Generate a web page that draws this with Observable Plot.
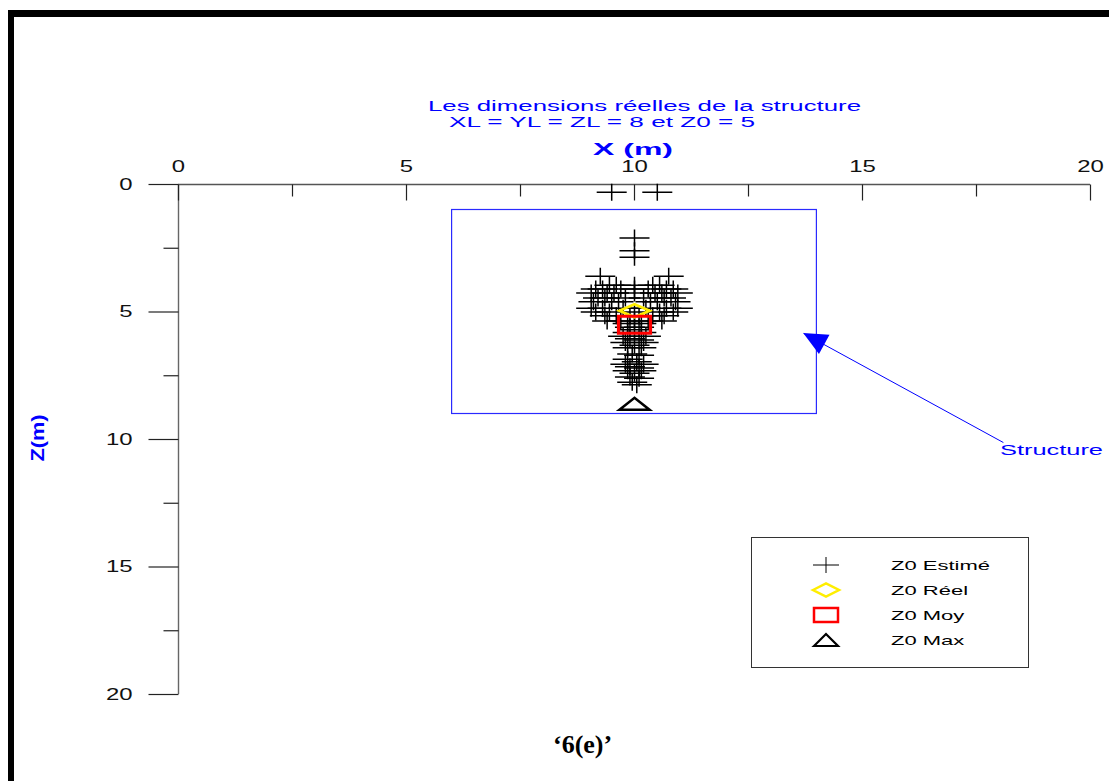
<!DOCTYPE html>
<html><head><meta charset="utf-8">
<script src="https://cdn.jsdelivr.net/npm/d3@7"></script>
<script src="https://cdn.jsdelivr.net/npm/@observablehq/plot@0.6"></script>
<style>
body{margin:0;background:#fff;}
#wrap{position:relative;width:1109px;height:781px;overflow:hidden;background:#fff;font-family:"Liberation Sans",Arial,sans-serif;}
.t{position:absolute;white-space:nowrap;line-height:1;}
.bar{position:absolute;background:#000;}
</style></head><body><div id="wrap"></div>
<script>
// ---------- data ----------
const titleLine1 = "Les dimensions réelles de la structure";
const titleLine2 = "XL = YL = ZL = 8 et Z0 = 5";
const xLabel = "X (m)";
const zLabel = "Z(m)";
const figureLabel = "\u20186(e)\u2019";
const annotationLabel = "Structure";
const legendLabels = ["Z0 Estimé", "Z0 Réel", "Z0 Moy", "Z0 Max"];

const xMajorTicks = [0, 5, 10, 15, 20];
const xMinorTicks = [2.5, 7.5, 12.5, 17.5];
const zMajorTicks = [0, 5, 10, 15, 20];
const zMinorTicks = [2.5, 7.5, 12.5, 17.5];

// structure box (m)
const structureX = [6, 14];
const structureZ = [1, 9];

// estimated Z0 points
const estimatedX = [9.5,10.5, 10,10,10, 9.25,10.75,
 9.45,9.6,10.0,10.4,10.55,
 9.15,9.3,9.7,10.0,10.3,10.7,10.85,
 9.05,9.4,9.55,10.0,10.45,10.6,10.95,
 9.2,9.35,9.8,10.2,10.65,10.8,
 9.1,9.5,9.65,10.35,10.5,10.9,
 9.05,9.3,9.75,10.25,10.7,10.95,
 9.15,9.45,10.0,10.55,10.85,
 9.35,9.6,9.9,10.1,10.4,10.65,
 9.4,9.7,10.0,10.3,10.6,
 9.85,10.15,9.9,10.1,10.0,9.85,10.15,
 9.75,10.25,9.9,10.1,9.8,10.2,10.0,9.85,10.15,
 9.95,10.1,9.85,10.05,9.8,10.2,9.9,10.1,9.85,10.15,10.0,9.9,10.1,9.95,10.05];
const estimatedZ = [0.3,0.3, 2.1,2.6,2.85, 3.6,3.6,
 3.95,3.95,3.95,3.95,3.95,
 4.1,4.1,4.1,4.1,4.1,4.1,4.1,
 4.25,4.25,4.25,4.25,4.25,4.25,4.25,
 4.45,4.45,4.45,4.45,4.45,4.45,
 4.6,4.6,4.6,4.6,4.6,4.6,
 4.85,4.85,4.85,4.85,4.85,4.85,
 5.0,5.0,5.0,5.0,5.0,
 5.15,5.15,5.15,5.15,5.15,5.15,
 5.35,5.35,5.35,5.35,5.35,
 5.45,5.45,5.6,5.6,5.7,5.8,5.8,
 5.95,5.95,6.05,6.1,6.2,6.2,6.3,6.4,6.4,
 6.65,6.7,6.85,6.95,7.05,7.05,7.15,7.2,7.3,7.3,7.4,7.55,7.6,7.75,7.85];

const reelX = [10],  reelZ = [4.95];
const moyX = [10],   moyZ = [5.5];
const maxX = [10],   maxZ = [8.6];

// annotation arrow (from label to box)
const arrowFromX = [18.09], arrowFromZ = [10.12];
const arrowToX = [13.71],   arrowToZ = [5.84];

// ---------- build tables ----------
const estimated = estimatedX.map((x, i) => ({x, z: estimatedZ[i]}));
const reel = reelX.map((x, i) => ({x, z: reelZ[i]}));
const moy = moyX.map((x, i) => ({x, z: moyZ[i]}));
const maxi = maxX.map((x, i) => ({x, z: maxZ[i]}));
const structure = [{x1: structureX[0], x2: structureX[1], z1: structureZ[0], z2: structureZ[1]}];
const arrows = arrowFromX.map((x, i) => ({x1: x, z1: arrowFromZ[i], x2: arrowToX[i], z2: arrowToZ[i]}));

// ---------- symbols ----------
const sym = f => ({draw(c){ f(c); }});
const crossSym = sym(c => {c.moveTo(-15,0);c.lineTo(15,0);c.moveTo(0,-8.5);c.lineTo(0,8.5);});
const tickDown = len => sym(c => {c.moveTo(0,0);c.lineTo(0,len);});
const tickLeft = len => sym(c => {c.moveTo(0,0);c.lineTo(-len,0);});
const diamondSym = sym(c => {c.moveTo(-15,0);c.lineTo(0,-6.5);c.lineTo(15,0);c.lineTo(0,6.5);c.closePath();});
const squareSym = sym(c => {c.moveTo(-16,-8.5);c.lineTo(16,-8.5);c.lineTo(16,8.5);c.lineTo(-16,8.5);c.closePath();});
const triSym = sym(c => {c.moveTo(-15,6);c.lineTo(0,-6);c.lineTo(15,6);c.closePath();});

const BLUE = "#0000ff";
const wrap = document.getElementById("wrap");

const plot = Plot.plot({
  width: 1109, height: 781,
  marginLeft: 178, marginRight: 19, marginTop: 184, marginBottom: 87,
  style: {fontFamily: "'Liberation Sans', Arial, sans-serif", background: "transparent", overflow: "visible"},
  x: {domain: [0, 20], axis: null},
  y: {domain: [0, 20], reverse: true, axis: null},
  marks: [
    Plot.rect(structure, {x1: "x1", x2: "x2", y1: "z1", y2: "z2", fill: "none", stroke: "#2a2aff", strokeWidth: 1.2}),
    Plot.ruleY([0], {stroke: "#555", strokeWidth: 1.4}),
    Plot.ruleX([0], {stroke: "#666", strokeWidth: 1.4}),
    Plot.dot(xMajorTicks, {x: d => d, y: d => 0, symbol: tickDown(16), stroke: "#222", fill: "none", strokeWidth: 1.2}),
    Plot.dot(xMinorTicks, {x: d => d, y: d => 0, symbol: tickDown(12), stroke: "#222", fill: "none", strokeWidth: 1.2}),
    Plot.dot(zMajorTicks, {x: d => 0, y: d => d, symbol: tickLeft(30), stroke: "#222", fill: "none", strokeWidth: 1.2}),
    Plot.dot(zMinorTicks, {x: d => 0, y: d => d, symbol: tickLeft(15), stroke: "#222", fill: "none", strokeWidth: 1.2}),
    Plot.text(xMajorTicks, {x: d => d, y: d => 0, text: d => String(d), dy: -18, fontSize: 16.5, fill: "#111"}),
    Plot.text(zMajorTicks, {x: d => 0, y: d => d, text: d => String(d), dx: -46, textAnchor: "end", fontSize: 16.5, fill: "#111"}),
    Plot.dot(estimated, {x: "x", y: "z", symbol: crossSym, stroke: "#000", fill: "none", strokeWidth: 1.5}),
    Plot.dot(reel, {x: "x", y: "z", symbol: diamondSym, stroke: "#ffee00", fill: "none", strokeWidth: 2.8}),
    Plot.dot(moy, {x: "x", y: "z", symbol: squareSym, stroke: "#ff0000", fill: "none", strokeWidth: 3.2}),
    Plot.dot(maxi, {x: "x", y: "z", symbol: triSym, stroke: "#000", fill: "none", strokeWidth: 2.6}),
    Plot.link(arrows, {x1: "x1", y1: "z1", x2: "x2", y2: "z2", stroke: BLUE, strokeWidth: 1})
  ]
});
plot.style.position = "absolute";
plot.style.left = "0px";
plot.style.top = "0px";
wrap.appendChild(plot);

// stretch tick labels horizontally like the reference
plot.querySelectorAll("text").forEach(t => {
  const L = t.getComputedTextLength();
  t.setAttribute("textLength", (L * 1.45).toFixed(1));
  t.setAttribute("lengthAdjust", "spacingAndGlyphs");
});

// filled arrowhead
{
  const sx = plot.scale("x"), sy = plot.scale("y");
  const fx = v => sx.apply ? sx.apply(v) : d3.scaleLinear(sx.domain, sx.range)(v);
  const fy = v => sy.apply ? sy.apply(v) : d3.scaleLinear(sy.domain, sy.range)(v);
  arrows.forEach(a => {
    const tx = fx(a.x2), ty = fy(a.z2), ox = fx(a.x1), oy = fy(a.z1);
    const dx = ox - tx, dy = oy - ty, len = Math.hypot(dx, dy);
    const ux = dx / len, uy = dy / len, hl = 24, hw = 11;
    const bx = tx + ux * hl, by = ty + uy * hl;
    d3.select(plot).append("path")
      .attr("d", `M${tx},${ty}L${bx - uy * hw},${by + ux * hw}L${bx + uy * hw},${by - ux * hw}Z`)
      .attr("fill", BLUE);
  });
}

// frame bars
[[8, 10, 1101, 7], [8, 10, 6, 771]].forEach(([l, t, w, h]) => {
  const d = document.createElement("div"); d.className = "bar";
  Object.assign(d.style, {left: l + "px", top: t + "px", width: w + "px", height: h + "px"});
  wrap.appendChild(d);
});

function addText(txt, o) {
  const el = document.createElement("div");
  el.className = "t"; el.textContent = txt;
  el.style.fontSize = o.size + "px";
  el.style.fontWeight = o.weight || "normal";
  el.style.fontFamily = o.family || "'Liberation Sans', Arial, sans-serif";
  el.style.color = o.color || BLUE;
  wrap.appendChild(el);
  const r = el.getBoundingClientRect();
  const k = o.scale ? o.scale : (o.width ? o.width / r.width : 1);
  if (o.rotate) {
    el.style.left = o.cx + "px"; el.style.top = o.cy + "px";
    el.style.transformOrigin = "50% 50%";
    el.style.transform = `translate(-50%,-50%) rotate(-90deg) scaleX(${k})`;
  } else {
    el.style.left = o.left + "px"; el.style.top = (o.cy - r.height / 2) + "px";
    el.style.transformOrigin = "0 50%";
    el.style.transform = `scaleX(${k})`;
  }
  return k;
}

addText(titleLine1, {left: 428, cy: 106, width: 433, size: 14});
addText(titleLine2, {left: 449, cy: 122, width: 306, size: 14});
addText(xLabel, {left: 593, cy: 149, width: 80, size: 17, weight: "bold"});
addText(zLabel, {cx: 38, cy: 438, width: 47, size: 18, weight: "bold", rotate: true});
addText(annotationLabel, {left: 1000, cy: 450, width: 103, size: 14});
addText(figureLabel, {left: 553, cy: 745, size: 26, weight: "bold", family: "'Liberation Serif', 'Times New Roman', serif", color: "#000"});

// legend
{
  const L = 751, T = 537, W = 278, H = 131;
  const s = d3.select(wrap).append("svg").attr("width", W).attr("height", H)
    .style("position", "absolute").style("left", L + "px").style("top", T + "px");
  s.append("rect").attr("x", 0.5).attr("y", 0.5).attr("width", W - 1).attr("height", H - 1)
    .attr("fill", "#fff").attr("stroke", "#333").attr("stroke-width", 1);
  const rowsY = [28, 53, 78, 103];
  const syms = [
    {p: "M-13,0L13,0M0,-8L0,8", stroke: "#000", w: 1},
    {p: "M-13,0L0,-6.5L13,0L0,6.5Z", stroke: "#ffee00", w: 2.5},
    {p: "M-12,-7L12,-7L12,7L-12,7Z", stroke: "#ff0000", w: 2.5},
    {p: "M-12,6L0,-6L12,6Z", stroke: "#000", w: 2.2}
  ];
  syms.forEach((d, i) => {
    s.append("path").attr("d", d.p).attr("transform", `translate(75,${rowsY[i]})`)
      .attr("fill", "none").attr("stroke", d.stroke).attr("stroke-width", d.w);
  });
  let k = null;
  legendLabels.forEach((lab, i) => {
    if (k === null) k = addText(lab, {left: L + 140, cy: T + rowsY[i], width: 99, size: 13, color: "#000"});
    else addText(lab, {left: L + 140, cy: T + rowsY[i], scale: k, size: 13, color: "#000"});
  });
}
</script></body></html>
